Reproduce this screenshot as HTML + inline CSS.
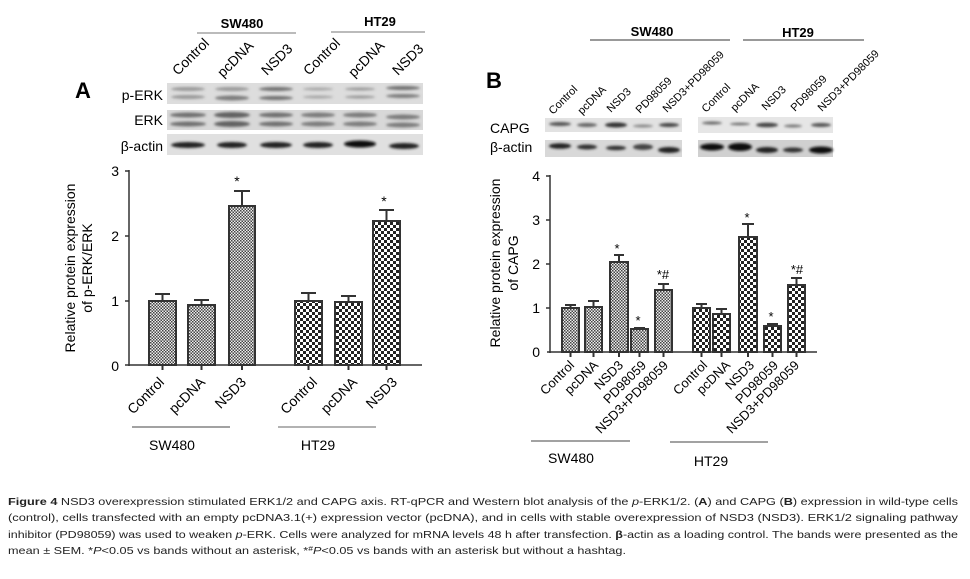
<!DOCTYPE html>
<html><head><meta charset="utf-8"><style>
html,body{margin:0;padding:0;background:#fff}
svg{display:block;font-family:"Liberation Sans",Arial,sans-serif}
</style></head><body>
<svg width="970" height="579" viewBox="0 0 970 579" xmlns="http://www.w3.org/2000/svg">
<defs>
<pattern id="fine" width="3" height="3" patternUnits="userSpaceOnUse"><rect width="3" height="3" fill="#eee"/><rect width="1.5" height="1.5" fill="#444"/><rect x="1.5" y="1.5" width="1.5" height="1.5" fill="#444"/></pattern>
<pattern id="coarse" width="6" height="6" patternUnits="userSpaceOnUse"><rect width="6" height="6" fill="#fff"/><rect width="3" height="3" fill="#222"/><rect x="3" y="3" width="3" height="3" fill="#222"/></pattern>
<filter id="bl"><feGaussianBlur stdDeviation="1.2"/></filter>
</defs>

<text x="75" y="98" font-size="22" font-weight="bold">A</text>
<text x="242" y="28" font-size="13" font-weight="bold" text-anchor="middle">SW480</text>
<line x1="197" y1="33" x2="296" y2="33" stroke="#777"/>
<text x="380" y="26" font-size="13" font-weight="bold" text-anchor="middle">HT29</text>
<line x1="331" y1="32" x2="425" y2="32" stroke="#777"/>
<g font-size="14">
<text transform="translate(178,76) rotate(-45)">Control</text>
<text transform="translate(223,78) rotate(-45)">pcDNA</text>
<text transform="translate(267,76) rotate(-45)">NSD3</text>
<text transform="translate(309,76) rotate(-45)">Control</text>
<text transform="translate(354,78) rotate(-45)">pcDNA</text>
<text transform="translate(398,76) rotate(-45)">NSD3</text>
</g>
<g font-size="14" text-anchor="end">
<text x="163" y="100">p-ERK</text>
<text x="163" y="125">ERK</text>
<text x="163" y="151">β-actin</text>
</g>
<rect x="167" y="83" width="256" height="21" fill="#ddd"/>
<rect x="167" y="110" width="256" height="20" fill="#d8d8d8"/>
<rect x="167" y="134" width="256" height="21" fill="#e0e0e0"/>
<g filter="url(#bl)" fill="#555">
<ellipse cx="188" cy="89" rx="17" ry="2" opacity=".5"/><ellipse cx="188" cy="97" rx="17" ry="2" opacity=".5"/>
<ellipse cx="232" cy="89" rx="17" ry="2" opacity=".5"/><ellipse cx="232" cy="98" rx="17" ry="2.5" opacity=".7"/>
<ellipse cx="276" cy="89" rx="17" ry="2" opacity=".8"/><ellipse cx="276" cy="98" rx="17" ry="2" opacity=".8"/>
<ellipse cx="318" cy="89" rx="15" ry="1.5" opacity=".4"/><ellipse cx="318" cy="97" rx="15" ry="1.5" opacity=".4"/>
<ellipse cx="360" cy="89" rx="15" ry="1.5" opacity=".5"/><ellipse cx="360" cy="97" rx="15" ry="1.5" opacity=".5"/>
<ellipse cx="403" cy="88" rx="17" ry="2" opacity=".8"/><ellipse cx="403" cy="96" rx="17" ry="2" opacity=".7"/>
<ellipse cx="188" cy="115" rx="18" ry="2.5" opacity=".8"/><ellipse cx="188" cy="124" rx="18" ry="2.5" opacity=".8"/>
<ellipse cx="232" cy="115" rx="18" ry="3" opacity=".9"/><ellipse cx="232" cy="124" rx="18" ry="3" opacity=".9"/>
<ellipse cx="276" cy="115" rx="17" ry="2.5" opacity=".8"/><ellipse cx="276" cy="124" rx="17" ry="2.5" opacity=".8"/>
<ellipse cx="318" cy="115" rx="17" ry="2.5" opacity=".7"/><ellipse cx="318" cy="124" rx="17" ry="2.5" opacity=".7"/>
<ellipse cx="360" cy="115" rx="17" ry="2.5" opacity=".7"/><ellipse cx="360" cy="124" rx="17" ry="2.5" opacity=".7"/>
<ellipse cx="403" cy="117" rx="17" ry="2.5" opacity=".7"/><ellipse cx="403" cy="125" rx="17" ry="2.5" opacity=".7"/>
<ellipse cx="188" cy="145" rx="17" ry="3" fill="#222"/><ellipse cx="232" cy="145" rx="15" ry="3" fill="#222"/>
<ellipse cx="276" cy="145" rx="16" ry="3" fill="#222"/><ellipse cx="318" cy="145" rx="15" ry="3" fill="#222"/>
<ellipse cx="360" cy="144" rx="16" ry="3.5" fill="#111"/><ellipse cx="404" cy="146" rx="15" ry="3" fill="#222"/>
</g>

<g stroke="#333" stroke-width="1.5" fill="none">
<line x1="129" y1="170" x2="129" y2="366"/>
<line x1="129" y1="365" x2="422" y2="365"/>
<line x1="125" y1="171" x2="129" y2="171"/><line x1="125" y1="236" x2="129" y2="236"/>
<line x1="125" y1="301" x2="129" y2="301"/><line x1="125" y1="365" x2="129" y2="365"/>
</g>
<g font-size="14" text-anchor="end"><text x="119" y="176">3</text><text x="119" y="241">2</text><text x="119" y="306">1</text><text x="119" y="371">0</text></g>
<text transform="translate(75,268) rotate(-90)" font-size="14" text-anchor="middle">Relative protein expression</text>
<text transform="translate(92,268) rotate(-90)" font-size="14" text-anchor="middle">of p-ERK/ERK</text>
<g stroke="#333" stroke-width="2">
<rect x="149" y="301" width="27" height="64" fill="url(#fine)"/>
<rect x="188" y="305" width="27" height="60" fill="url(#fine)"/>
<rect x="229" y="206" width="26" height="159" fill="url(#fine)"/>
<rect x="295" y="301" width="27" height="64" fill="url(#coarse)"/>
<rect x="335" y="302" width="27" height="63" fill="url(#coarse)"/>
<rect x="373" y="221" width="27" height="144" fill="url(#coarse)"/>
<path d="M162.5 301V294M155 294h15 M201.5 305V300M194 300h15 M242 206V191M234 191h16 M308.5 301V293M301 293h15 M348.5 302V296M341 296h15 M386.5 221V210M379 210h15" fill="none"/>
<path d="M162.5 365v5M201.5 365v5M242 365v5M308.5 365v5M348.5 365v5M386.5 365v5"/>
</g>
<g font-size="14"><text x="237" y="186" text-anchor="middle">*</text><text x="384" y="206" text-anchor="middle">*</text></g>
<g font-size="14" text-anchor="end">
<text transform="translate(165,383) rotate(-45)">Control</text>
<text transform="translate(206,383) rotate(-45)">pcDNA</text>
<text transform="translate(247,383) rotate(-45)">NSD3</text>
<text transform="translate(318,383) rotate(-45)">Control</text>
<text transform="translate(358,383) rotate(-45)">pcDNA</text>
<text transform="translate(398,383) rotate(-45)">NSD3</text>
</g>
<line x1="132" y1="427" x2="230" y2="427" stroke="#444"/>
<line x1="278" y1="427" x2="376" y2="427" stroke="#999" stroke-width="1.5"/>
<text x="172" y="450" font-size="14" text-anchor="middle">SW480</text>
<text x="318" y="450" font-size="14" text-anchor="middle">HT29</text>

<text x="486" y="88" font-size="22" font-weight="bold">B</text>
<text x="652" y="36" font-size="13" font-weight="bold" text-anchor="middle">SW480</text>
<line x1="590" y1="40" x2="730" y2="40" stroke="#333"/>
<text x="798" y="37" font-size="13" font-weight="bold" text-anchor="middle">HT29</text>
<line x1="743" y1="40" x2="864" y2="40" stroke="#333"/>
<g font-size="11">
<text transform="translate(553,115) rotate(-45)">Control</text>
<text transform="translate(582,115) rotate(-45)">pcDNA</text>
<text transform="translate(611,113) rotate(-45)">NSD3</text>
<text transform="translate(640,114) rotate(-45)">PD98059</text>
<text transform="translate(667,113) rotate(-45)">NSD3+PD98059</text>
<text transform="translate(706,113) rotate(-45)">Control</text>
<text transform="translate(735,112) rotate(-45)">pcDNA</text>
<text transform="translate(766,111) rotate(-45)">NSD3</text>
<text transform="translate(795,112) rotate(-45)">PD98059</text>
<text transform="translate(822,112) rotate(-45)">NSD3+PD98059</text>
</g>
<text x="490" y="133" font-size="14">CAPG</text>
<text x="490" y="152" font-size="14">β-actin</text>
<rect x="545" y="118" width="137" height="14" fill="#e2e2e2"/>
<rect x="545" y="140" width="137" height="17" fill="#d8d8d8"/>
<rect x="698" y="117" width="135" height="16" fill="#e6e6e6"/>
<rect x="698" y="140" width="135" height="17" fill="#d0d0d0"/>
<g filter="url(#bl)">
<ellipse cx="560" cy="124" rx="11" ry="2" fill="#555"/><ellipse cx="587" cy="125" rx="10" ry="2" fill="#666"/>
<ellipse cx="616" cy="125" rx="11" ry="2.5" fill="#333"/><ellipse cx="643" cy="126" rx="10" ry="1.5" fill="#888"/>
<ellipse cx="669" cy="125" rx="10" ry="2" fill="#444"/>
<ellipse cx="712" cy="123" rx="10" ry="1.5" fill="#666"/><ellipse cx="740" cy="124" rx="10" ry="1.3" fill="#666"/>
<ellipse cx="767" cy="125" rx="11" ry="2.3" fill="#444"/><ellipse cx="793" cy="126" rx="9" ry="1.5" fill="#777"/>
<ellipse cx="821" cy="125" rx="10" ry="2" fill="#555"/>
<ellipse cx="560" cy="146" rx="11" ry="2.8" fill="#222"/><ellipse cx="587" cy="147" rx="10" ry="2.5" fill="#333"/>
<ellipse cx="616" cy="148" rx="10" ry="2.3" fill="#333"/><ellipse cx="643" cy="147" rx="10" ry="3" fill="#444"/>
<ellipse cx="669" cy="150" rx="11" ry="3" fill="#222"/>
<ellipse cx="712" cy="147" rx="12" ry="3.5" fill="#111"/><ellipse cx="740" cy="147" rx="12" ry="4" fill="#111"/>
<ellipse cx="767" cy="150" rx="11" ry="3" fill="#222"/><ellipse cx="793" cy="150" rx="10" ry="2.5" fill="#333"/>
<ellipse cx="821" cy="150" rx="12" ry="3.5" fill="#111"/>
</g>

<g stroke="#333" stroke-width="1.5" fill="none">
<line x1="550" y1="175" x2="550" y2="353"/>
<line x1="547" y1="352" x2="817" y2="352"/>
<line x1="546" y1="176" x2="550" y2="176"/><line x1="546" y1="220" x2="550" y2="220"/>
<line x1="546" y1="264" x2="550" y2="264"/><line x1="546" y1="308" x2="550" y2="308"/>
</g>
<g font-size="14" text-anchor="end"><text x="540" y="181">4</text><text x="540" y="225">3</text><text x="540" y="269">2</text><text x="540" y="313">1</text><text x="540" y="357">0</text></g>
<text transform="translate(500,263) rotate(-90)" font-size="14" text-anchor="middle">Relative protein expression</text>
<text transform="translate(518,263) rotate(-90)" font-size="14" text-anchor="middle">of CAPG</text>
<g stroke="#333" stroke-width="2">
<rect x="562" y="308" width="17" height="44" fill="url(#fine)"/>
<rect x="585" y="307" width="17" height="45" fill="url(#fine)"/>
<rect x="610" y="262" width="18" height="90" fill="url(#fine)"/>
<rect x="631" y="329" width="17" height="23" fill="url(#fine)"/>
<rect x="655" y="290" width="17" height="62" fill="url(#fine)"/>
<rect x="693" y="308" width="17" height="44" fill="url(#coarse)"/>
<rect x="713" y="314" width="17" height="38" fill="url(#coarse)"/>
<rect x="739" y="237" width="18" height="115" fill="url(#coarse)"/>
<rect x="764" y="326" width="17" height="26" fill="url(#coarse)"/>
<rect x="788" y="285" width="17" height="67" fill="url(#coarse)"/>
<path fill="none" d="M570.5 308v-3M565 305h11 M593.5 307v-6M588 301h11 M619 262v-7M614 255h10 M639.5 329v-1M634 328h11 M663.5 290v-6M658 284h11 M701.5 308v-4M696 304h11 M721.5 314v-5M716 309h11 M748 237v-13M742 224h12 M772.5 326v-2M767 324h11 M796.5 285v-7M791 278h11"/>
<path d="M570.5 352v5M593.5 352v5M619 352v5M639.5 352v5M663.5 352v5M701.5 352v5M721.5 352v5M748 352v5M772.5 352v5M796.5 352v5"/>
</g>
<g font-size="13" text-anchor="middle">
<text x="617" y="253">*</text><text x="638" y="325">*</text><text x="663" y="279">*#</text>
<text x="747" y="222">*</text><text x="771" y="321">*</text><text x="797" y="274">*#</text>
</g>
<g font-size="13" text-anchor="end">
<text transform="translate(575,366) rotate(-45)">Control</text>
<text transform="translate(599,366) rotate(-45)">pcDNA</text>
<text transform="translate(624,366) rotate(-45)">NSD3</text>
<text transform="translate(647,366) rotate(-45)">PD98059</text>
<text transform="translate(669,366) rotate(-45)">NSD3+PD98059</text>
<text transform="translate(708,366) rotate(-45)">Control</text>
<text transform="translate(731,366) rotate(-45)">pcDNA</text>
<text transform="translate(755,366) rotate(-45)">NSD3</text>
<text transform="translate(779,366) rotate(-45)">PD98059</text>
<text transform="translate(800,366) rotate(-45)">NSD3+PD98059</text>
</g>
<line x1="531" y1="441" x2="630" y2="441" stroke="#444"/>
<line x1="670" y1="442" x2="768" y2="442" stroke="#444"/>
<text x="571" y="463" font-size="14" text-anchor="middle">SW480</text>
<text x="711" y="466" font-size="14" text-anchor="middle">HT29</text>

<g font-size="10.5" fill="#222">
<text x="8" y="505" textLength="950" lengthAdjust="spacingAndGlyphs"><tspan font-weight="bold">Figure 4</tspan> NSD3 overexpression stimulated ERK1/2 and CAPG axis. RT-qPCR and Western blot analysis of the <tspan font-style="italic">p</tspan>-ERK1/2. (<tspan font-weight="bold">A</tspan>) and CAPG (<tspan font-weight="bold">B</tspan>) expression in wild-type cells</text>
<text x="8" y="521" textLength="950" lengthAdjust="spacingAndGlyphs">(control), cells transfected with an empty pcDNA3.1(+) expression vector (pcDNA), and in cells with stable overexpression of NSD3 (NSD3). ERK1/2 signaling pathway</text>
<text x="8" y="538" textLength="950" lengthAdjust="spacingAndGlyphs">inhibitor (PD98059) was used to weaken <tspan font-style="italic">p</tspan>-ERK. Cells were analyzed for mRNA levels 48 h after transfection. <tspan font-weight="bold">β</tspan>-actin as a loading control. The bands were presented as the</text>
<text x="8" y="554" textLength="618" lengthAdjust="spacingAndGlyphs">mean ± SEM. *<tspan font-style="italic">P</tspan>&lt;0.05 vs bands without an asterisk, *<tspan baseline-shift="super" font-size="7">#</tspan><tspan font-style="italic">P</tspan>&lt;0.05 vs bands with an asterisk but without a hashtag.</text>
</g>
</svg>
</body></html>
